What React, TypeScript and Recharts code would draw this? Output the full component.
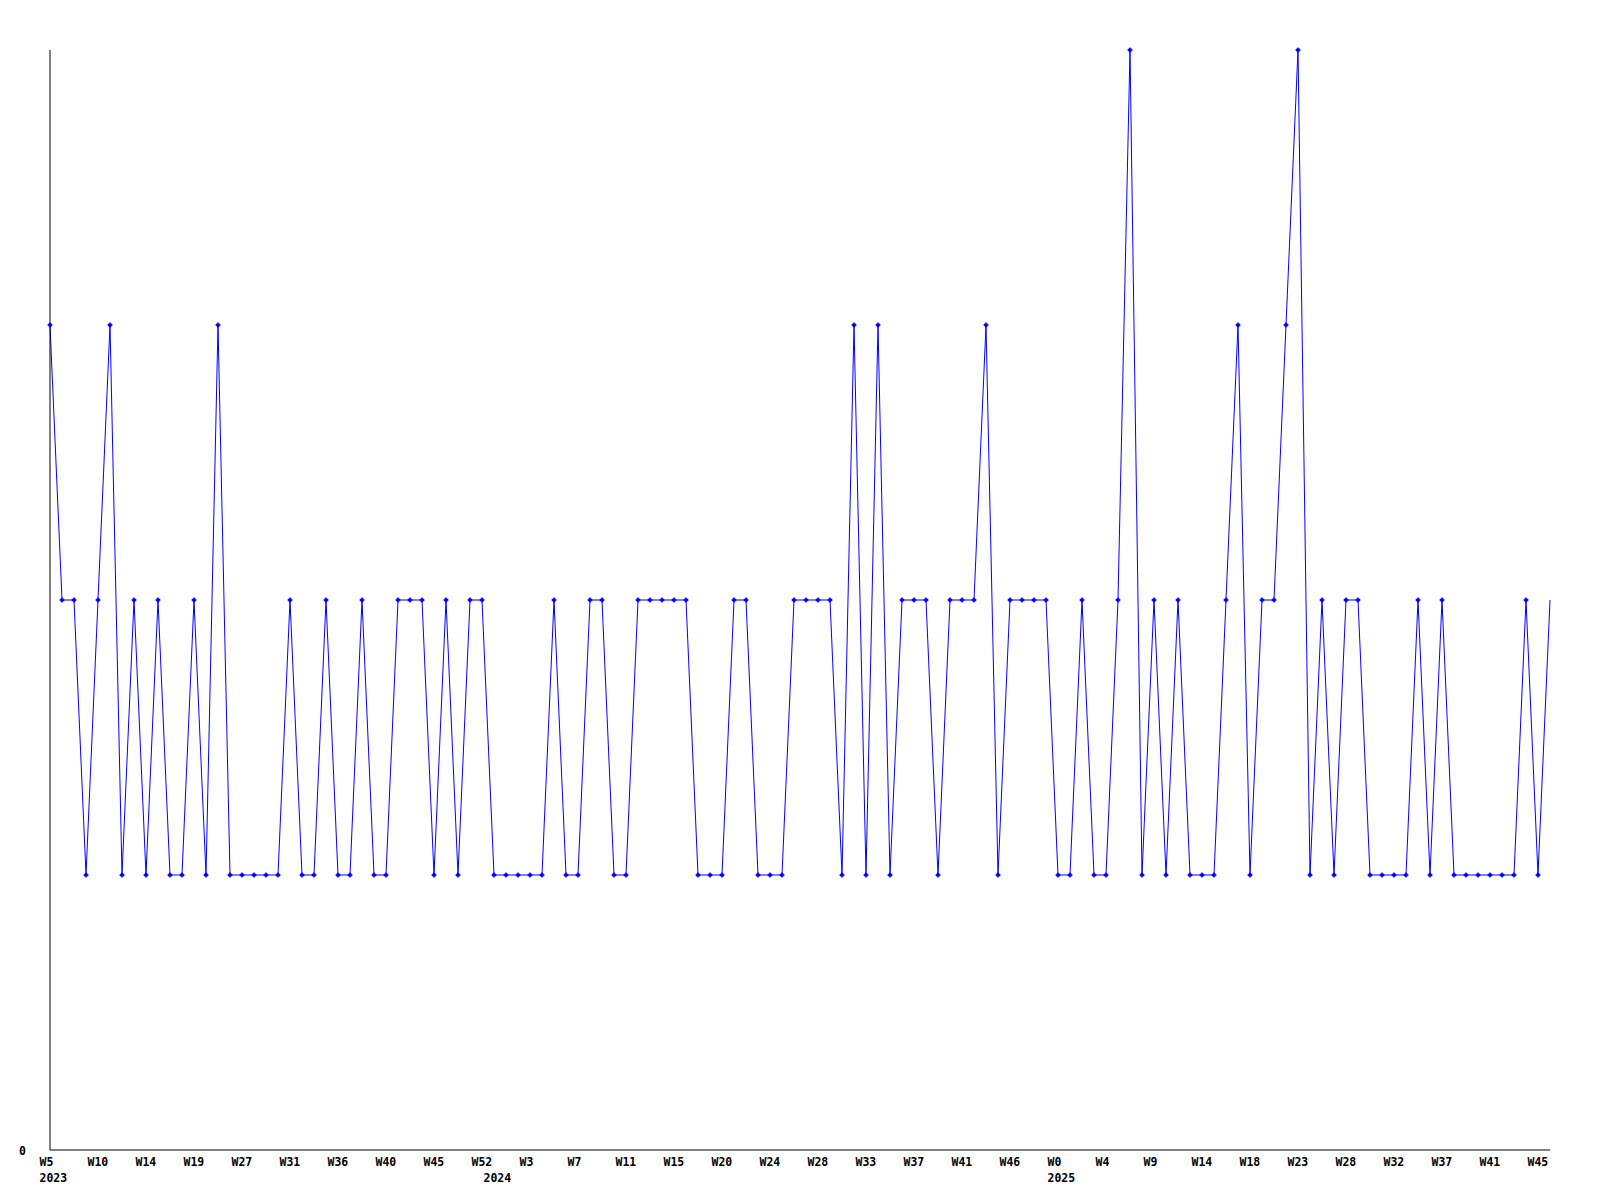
import React from 'react';
import { LineChart, Line, XAxis, YAxis } from 'recharts';

// weekly counts, one value per data point
const values: number[] = [
  3, 2, 2, 1, 2, 3, 1, 2, 1, 2, 1, 1, 2, 1, 3, 1, 1, 1, 1, 1,
  2, 1, 1, 2, 1, 1, 2, 1, 1, 2, 2, 2, 1, 2, 1, 2, 2, 1, 1, 1,
  1, 1, 2, 1, 1, 2, 2, 1, 1, 2, 2, 2, 2, 2, 1, 1, 1, 2, 2, 1,
  1, 1, 2, 2, 2, 2, 1, 3, 1, 3, 1, 2, 2, 2, 1, 2, 2, 2, 3, 1,
  2, 2, 2, 2, 1, 1, 2, 1, 1, 2, 4, 1, 2, 1, 2, 1, 1, 1, 2, 3,
  1, 2, 2, 3, 4, 1, 2, 1, 2, 2, 1, 1, 1, 1, 2, 1, 2, 1, 1, 1,
  1, 1, 1, 2, 1, 2,
];

// week label shown on every 4th point
const weekLabels: string[] = [
  'W5', 'W10', 'W14', 'W19', 'W27', 'W31', 'W36', 'W40', 'W45', 'W52', 'W3',
  'W7', 'W11', 'W15', 'W20', 'W24', 'W28', 'W33', 'W37', 'W41', 'W46', 'W0',
  'W4', 'W9', 'W14', 'W18', 'W23', 'W28', 'W32', 'W37', 'W41', 'W45',
];
const labelStep = 4;

// first data point of each year
const yearStartIdx: number[] = [0, 37, 84];
const years: string[] = ['2023', '2024', '2025'];

const data = values.map((v, i) => ({ i, v }));
const ticks = Array.from(
  new Set([...weekLabels.map((_, k) => k * labelStep), ...yearStartIdx])
).sort((a, b) => a - b);

const FONT = '"DejaVu Sans Mono", monospace';

const XTick = (props: any) => {
  const { x, y, payload } = props;
  const idx = payload.value;
  const week = idx % labelStep === 0 ? weekLabels[idx / labelStep] : null;
  const yi = yearStartIdx.indexOf(idx);
  return (
    <g>
      {week && (
        <text x={x - 10.5} y={y + 13.5} textAnchor="start" fontFamily={FONT} fontSize={11.5} fontWeight="bold" fill="#000">
          {week}
        </text>
      )}
      {yi >= 0 && (
        <text x={x - 10.5} y={y + 29.5} textAnchor="start" fontFamily={FONT} fontSize={11.5} fontWeight="bold" fill="#000">
          {years[yi]}
        </text>
      )}
    </g>
  );
};

const YTick = (props: any) => {
  const { y, payload } = props;
  return (
    <text x={26} y={y + 5} textAnchor="end" fontFamily={FONT} fontSize={11.5} fontWeight="bold" fill="#000">
      {payload.value}
    </text>
  );
};

// small diamond marker; the last point has none in the original
const Marker = (props: any) => {
  const { cx, cy, index } = props;
  if (cx == null || cy == null || index === values.length - 1) return <g key={`m-${index}`} />;
  return (
    <path
      key={`m-${index}`}
      d={`M${cx - 2.5},${cy} L${cx},${cy - 2.5} L${cx + 2.5},${cy} L${cx},${cy + 2.5} Z`}
      fill="#0000ff"
      stroke="#0000ff"
      strokeWidth={0.5}
    />
  );
};

export default function App() {
  return (
    <div style={{ position: 'absolute', left: 0, top: 0, background: '#fff' }}>
      <LineChart width={1600} height={1200} data={data} margin={{ top: 50, right: 50, left: 0, bottom: 0 }}>
        <XAxis
          dataKey="i"
          type="number"
          domain={[0, values.length - 1]}
          ticks={ticks}
          interval={0}
          tick={<XTick />}
          tickLine={false}
          tickSize={0}
          height={50}
          axisLine={{ stroke: '#000', strokeWidth: 1 }}
        />
        <YAxis
          domain={[0, 4]}
          ticks={[0]}
          tick={<YTick />}
          tickLine={false}
          width={50}
          axisLine={{ stroke: '#000', strokeWidth: 1 }}
        />
        <Line
          type="linear"
          dataKey="v"
          stroke="#0000ff"
          strokeWidth={1}
          dot={<Marker />}
          activeDot={false}
          isAnimationActive={false}
        />
      </LineChart>
    </div>
  );
}
